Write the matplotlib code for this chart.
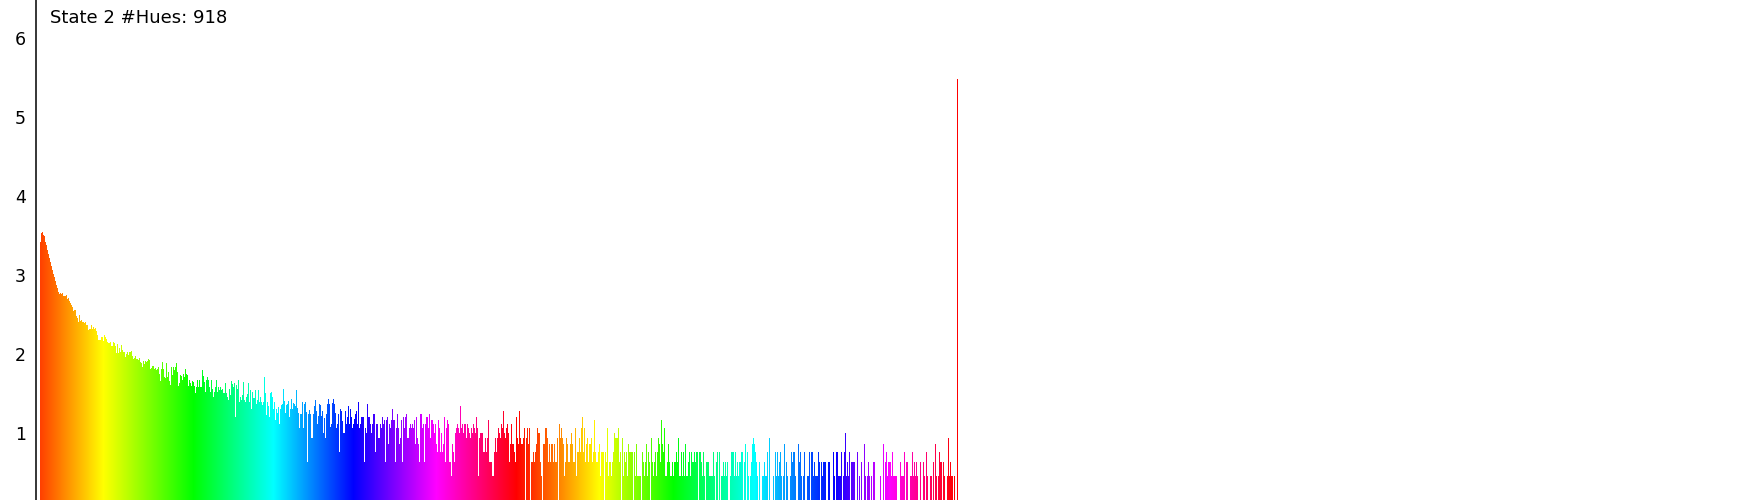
import colorsys
import numpy as np
import matplotlib
matplotlib.use("Agg")
import matplotlib.pyplot as plt

title = "State 2 #Hues: 918"
y_ticks = [1, 2, 3, 4, 5, 6]

# values, left to right (0 = no visible bar)
seg1 = [3.42, 3.53, 3.54, 3.51, 3.49, 3.42, 3.38, 3.32, 3.27, 3.22,
        3.16, 3.11, 3.06, 3.01, 2.97, 2.92, 2.87, 2.83, 2.78, 2.76,
        2.77, 2.76, 2.77, 2.73, 2.73, 2.73, 2.75, 2.70, 2.71, 2.67,
        2.65, 2.62, 2.60, 2.54, 2.56, 2.56, 2.48, 2.46, 2.41, 2.49,
        2.42, 2.43, 2.41, 2.41, 2.39, 2.41, 2.37, 2.37, 2.30, 2.32,
        2.32, 2.37, 2.32, 2.34, 2.32, 2.33, 2.29, 2.24, 2.18, 2.18,
        2.18, 2.22, 2.22, 2.16, 2.24, 2.22, 2.19, 2.15, 2.14, 2.14,
        2.15, 2.10, 2.10, 2.15, 2.14, 2.10, 2.01, 2.13, 2.01, 2.08,
        2.02, 2.11, 2.05, 2.02, 2.02, 1.96, 2.00, 2.02, 1.99, 2.02,
        2.02, 2.04, 1.97, 1.94, 1.95, 1.97, 1.94, 1.94, 1.92, 1.95,
        1.90, 1.89, 1.84, 1.91, 1.87, 1.91, 1.90, 1.91, 1.94, 1.92,
        1.81, 1.82, 1.85, 1.85, 1.81, 1.82, 1.80, 1.81, 1.84, 1.75,
        1.66, 1.81, 1.90, 1.81, 1.71, 1.70, 1.89, 1.71, 1.77, 1.66,
        1.61, 1.84, 1.73, 1.84, 1.80, 1.84, 1.89, 1.77, 1.60, 1.63,
        1.73, 1.72, 1.67, 1.75, 1.71, 1.81, 1.75, 1.73, 1.60, 1.67,
        1.63, 1.60, 1.66, 1.65, 1.60, 1.51]

seg2 = [1.58, 1.67, 1.58, 1.67, 1.58, 1.58, 1.80, 1.72, 1.65, 1.52,
        1.67, 1.71, 1.67, 1.58, 1.52, 1.67, 1.56, 1.46, 1.52, 1.58,
        1.67, 1.52, 1.58, 1.54, 1.58, 1.54, 1.56, 1.51, 1.51, 1.63,
        1.51, 1.46, 1.42, 1.56, 1.48, 1.66, 1.62, 1.58, 1.63, 1.20,
        1.61, 1.56, 1.67, 1.39, 1.46, 1.42, 1.48, 1.65, 1.42, 1.39,
        1.46, 1.49, 1.63, 1.39, 1.54, 1.30, 1.52, 1.44, 1.44, 1.54,
        1.37, 1.42, 1.54, 1.39, 1.46, 1.39, 1.35, 1.39, 1.71, 1.51,
        1.23, 1.39, 1.34, 1.20, 1.51, 1.52, 1.46, 1.30, 1.39, 1.16,
        1.30, 1.25, 1.33, 1.11, 1.30, 1.35, 1.37, 1.56, 1.41, 1.25,
        1.35, 1.37, 1.41, 1.20, 1.30, 1.43, 1.30, 1.38, 1.37, 1.34,
        1.54, 1.32, 1.25, 1.06, 1.24, 1.24, 1.39, 1.06, 1.37, 1.39,
        1.27, 0.63, 1.24, 1.29, 1.24, 0.94, 0.94, 1.24, 1.34, 1.42,
        1.28, 1.11, 1.22, 1.37, 1.35, 1.22, 1.28, 1.00, 1.19, 0.94,
        1.24, 1.37, 1.43, 1.37, 1.08, 1.11, 1.38, 1.43, 1.37, 1.25,
        1.06, 1.11, 1.24, 0.76, 1.30, 1.28, 1.15, 1.00, 1.00, 1.28,
        1.11, 1.20, 1.34, 1.11, 1.30, 1.20, 1.06, 1.11, 1.18, 1.24]

seg3 = [1.28, 1.11, 1.39, 1.06, 1.11, 1.20, 1.20, 1.20, 0.63, 1.06,
        1.00, 1.37, 1.20, 1.20, 1.11, 1.00, 1.11, 1.24, 1.24, 0.76,
        1.11, 1.11, 0.94, 0.94, 1.11, 1.06, 1.20, 1.11, 1.16, 0.63,
        1.16, 1.20, 0.86, 1.11, 1.06, 1.16, 1.30, 1.16, 1.16, 0.63,
        1.06, 1.24, 1.06, 0.86, 0.94, 1.16, 0.63, 1.20, 1.06, 1.20,
        1.24, 0.94, 0.94, 1.06, 1.11, 1.06, 1.11, 1.06, 1.16, 0.86,
        1.20, 0.94, 0.86, 0.63, 1.24, 1.24, 1.06, 1.11, 0.63, 1.11,
        1.20, 1.20, 1.06, 1.24, 0.94, 1.16, 1.16, 1.11, 1.00, 1.11,
        0.86, 0.76, 1.16, 1.06, 0.76, 1.00, 0.76, 0.86, 1.20, 0.63,
        1.06, 1.16, 1.11, 0.63, 0.63, 0.46, 0.86, 0.76, 0.63, 1.00,
        1.06, 1.11, 1.06, 1.00, 1.34, 1.06, 1.11, 1.00, 1.11, 1.11,
        0.94, 1.11, 1.06, 1.00, 0.94, 1.06, 1.00, 1.11, 1.06, 1.00,
        1.20, 1.06, 0.46, 0.94, 1.00, 1.00, 1.00, 0.76, 0.76, 0.94,
        0.76, 0.94, 1.16, 0.63, 0.63, 0.63, 0.46, 0.46, 0.76, 0.94,
        0.76, 0.94, 1.06, 1.00, 0.94, 1.11, 1.06, 1.28, 1.00, 0.94,
        1.06, 1.11, 1.00, 0.63, 0.86, 1.11, 0.86, 0.86, 0.76, 0.63]

seg4 = [1.20, 0.94, 0.86, 1.28, 0.94, 0.86, 0.86, 0.94, 1.06, 0.00,
        0.94, 1.06, 0.86, 1.06, 0.00, 0.63, 0.63, 0.76, 0.63, 0.76,
        0.86, 1.06, 1.00, 1.00, 0.63, 0.46, 0.00, 0.86, 0.86, 1.06,
        1.06, 0.94, 0.63, 0.86, 0.63, 0.86, 0.86, 0.63, 0.86, 0.63,
        0.63, 0.94, 0.00, 1.11, 0.94, 1.06, 0.94, 0.86, 0.46, 0.63,
        0.94, 0.86, 0.63, 0.63, 0.86, 1.00, 0.86, 0.63, 0.63, 1.06,
        0.46, 0.76, 0.76, 0.94, 0.76, 1.06, 1.20, 0.76, 1.06, 0.63,
        0.86, 0.94, 0.63, 0.86, 0.86, 0.94, 0.63, 0.76, 1.16, 0.76,
        0.63, 0.63, 0.76, 0.86, 0.46, 0.76, 0.76, 0.76, 0.00, 0.76,
        0.63, 1.06, 0.46, 0.63, 0.63, 0.46, 0.63, 0.76, 1.00, 0.94,
        0.94, 0.94, 1.06, 0.63, 0.76, 0.00, 0.94, 0.46, 0.76, 0.63,
        0.76, 0.46, 0.86, 0.76, 0.76, 0.76, 0.76, 0.00, 0.76, 0.46,
        0.86, 0.46, 0.46, 0.46, 0.46, 0.00, 0.76, 0.63, 0.46, 0.63,
        0.86, 0.46, 0.76, 0.63, 0.00, 0.94, 0.63, 0.46, 0.63, 0.76,
        0.46, 0.76, 0.94, 0.86, 0.63, 1.16, 0.86, 0.76, 1.06, 0.46,
        0.46, 0.63, 0.86, 0.63, 0.46, 0.46, 0.63, 0.46, 0.63, 0.63]

seg5 = [0.76, 0.63, 0.94, 0.46, 0.46, 0.76, 0.46, 0.76, 0.46, 0.86,
        0.46, 0.46, 0.63, 0.76, 0.46, 0.76, 0.63, 0.63, 0.76, 0.63,
        0.76, 0.76, 0.00, 0.76, 0.76, 0.63, 0.46, 0.76, 0.46, 0.00,
        0.63, 0.63, 0.63, 0.46, 0.46, 0.46, 0.46, 0.76, 0.46, 0.00,
        0.63, 0.76, 0.00, 0.76, 0.00, 0.46, 0.46, 0.63, 0.46, 0.63,
        0.46, 0.63, 0.00, 0.00, 0.46, 0.76, 0.76, 0.76, 0.46, 0.76,
        0.46, 0.63, 0.46, 0.63, 0.63, 0.76, 0.76, 0.00, 0.63, 0.86,
        0.00, 0.76, 0.46, 0.00, 0.46, 0.63, 0.86, 0.94, 0.86, 0.76,
        0.63, 0.46, 0.00, 0.63, 0.00, 0.00, 0.46, 0.46, 0.63, 0.46,
        0.46, 0.76, 0.00, 0.94, 0.00, 0.00, 0.00, 0.46, 0.00, 0.76,
        0.46, 0.76, 0.46, 0.63, 0.76, 0.46, 0.00, 0.46, 0.86, 0.00,
        0.63, 0.46, 0.00, 0.00, 0.46, 0.76, 0.63, 0.76, 0.76, 0.46,
        0.00, 0.00, 0.86, 0.63, 0.76, 0.46, 0.00, 0.46, 0.76, 0.00,
        0.00, 0.46, 0.46, 0.76, 0.00, 0.76, 0.76, 0.46, 0.63, 0.46,
        0.46, 0.46, 0.76, 0.63, 0.00, 0.63, 0.46, 0.63, 0.63, 0.63,
        0.00, 0.00, 0.63, 0.63, 0.00, 0.00, 0.00, 0.76, 0.46, 0.00]

seg6 = [0.76, 0.76, 0.46, 0.46, 0.46, 0.76, 0.00, 0.46, 0.76, 1.00,
        0.46, 0.63, 0.46, 0.76, 0.00, 0.63, 0.63, 0.63, 0.63, 0.00,
        0.00, 0.76, 0.00, 0.46, 0.00, 0.63, 0.00, 0.00, 0.86, 0.46,
        0.00, 0.46, 0.63, 0.46, 0.00, 0.46, 0.00, 0.63, 0.63, 0.00,
        0.00, 0.00, 0.00, 0.00, 0.46, 0.00, 0.00, 0.86, 0.00, 0.63,
        0.76, 0.46, 0.63, 0.63, 0.63, 0.46, 0.76, 0.46, 0.46, 0.46,
        0.46, 0.00, 0.00, 0.00, 0.63, 0.46, 0.46, 0.46, 0.76, 0.00,
        0.63, 0.63, 0.00, 0.00, 0.46, 0.46, 0.76, 0.46, 0.63, 0.46,
        0.63, 0.46, 0.00, 0.00, 0.63, 0.00, 0.00, 0.63, 0.46, 0.00,
        0.76, 0.46, 0.00, 0.00, 0.46, 0.46, 0.00, 0.63, 0.00, 0.86,
        0.46, 0.00, 0.46, 0.76, 0.63, 0.63, 0.00, 0.63, 0.46, 0.00,
        0.00, 0.46, 0.94, 0.46, 0.63, 0.46, 0.46, 0.00, 0.46, 0.00,
        0.00, 5.48]

values = np.array(seg1 + seg2 + seg3 + seg4 + seg5 + seg6)
n = len(values)
x = np.arange(n)

# bar colour: hue sweeps the colour wheel twice (style anchors)
hue_idx = [0, 63, 153, 233, 313, 396, 476, 559, 633, 714, 793, 849, 913, 917]
hue_deg = [15, 60, 120, 180, 240, 300, 360, 420, 480, 540, 600, 660, 720, 720]
hues = (np.interp(x, hue_idx, hue_deg) % 360) / 360.0
colors = [colorsys.hsv_to_rgb(h, 1.0, 1.0) for h in hues]

W, H = 1750, 500
fig = plt.figure(figsize=(W / 100, H / 100), dpi=100)
left_px = 35.5
ax = fig.add_axes([left_px / W, 0, 1 - left_px / W, 1])

ax.bar(x, values, width=1.0, color=colors, linewidth=0, antialiased=False)

# pixel mapping: bar i occupies pixel column 40+i
ax.set_xlim(left_px - 40.5, W - 40.5)
px_per_unit = 79.0
y_one = 433.0
ax.set_ylim(1 - (H - y_one) / px_per_unit, 1 + y_one / px_per_unit)

ax.set_yticks(y_ticks)
ax.set_yticklabels([str(t) for t in y_ticks])
ax.tick_params(axis='y', length=0, pad=7.0, labelsize=12.5, labelcolor='black')
ax.set_xticks([])
for s in ['top', 'right', 'bottom']:
    ax.spines[s].set_visible(False)
ax.spines['left'].set_color('black')
ax.spines['left'].set_linewidth(1.1)
ax.set_facecolor('white')

fig.text(50 / W, 1 - 9 / H, title, ha='left', va='top', fontsize=13, color='black')

fig.savefig("out.png", dpi=100, facecolor='white')
